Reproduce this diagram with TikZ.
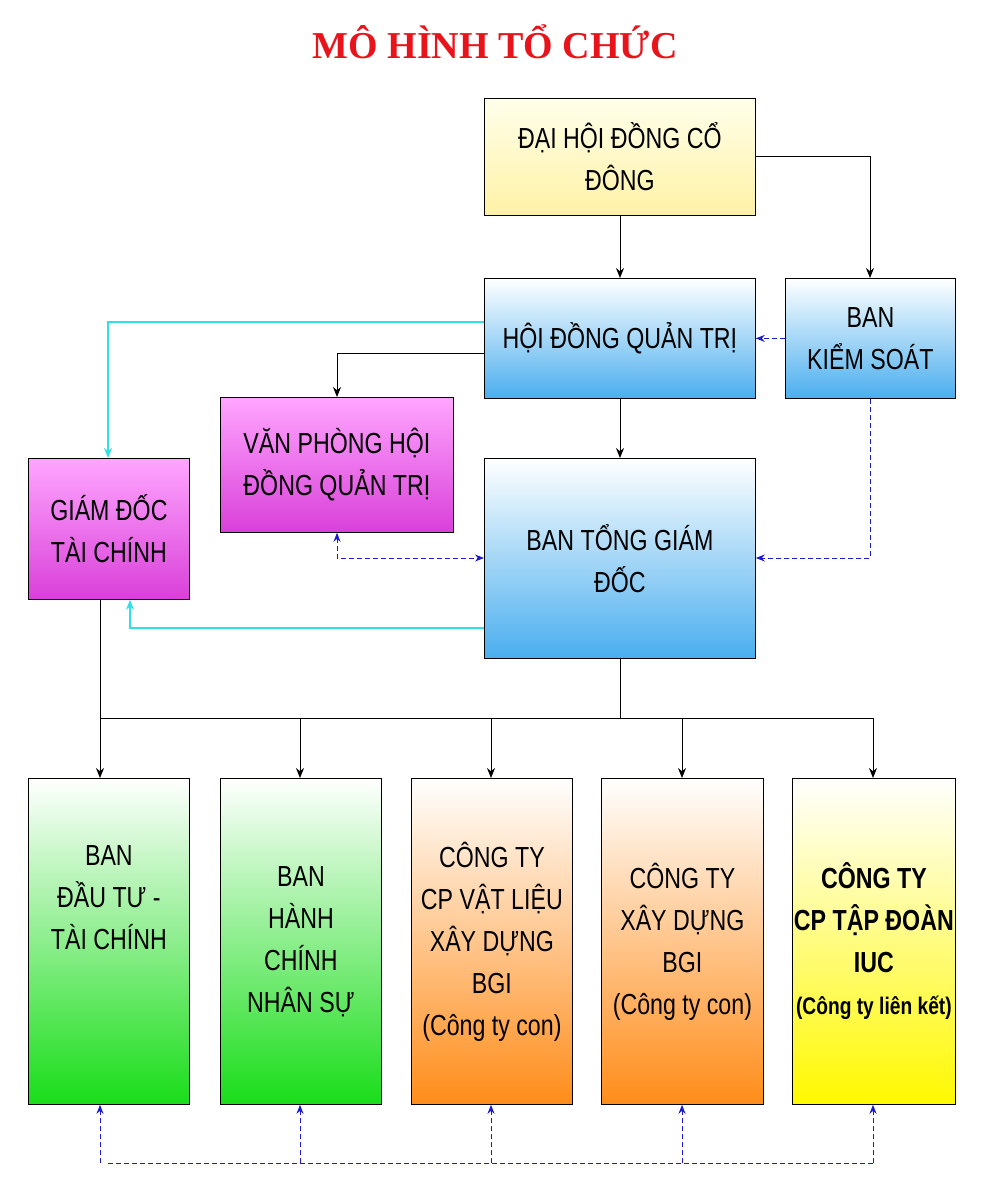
\documentclass[tikz,border=0pt]{standalone}
\usepackage{fontspec}
\setmainfont{Liberation Sans}[FakeStretch=0.8]
\newfontfamily\titlefont{Liberation Serif}
\usetikzlibrary{arrows.meta}
\definecolor{ttred}{HTML}{E8141C}
\definecolor{dashblue}{HTML}{1A1AD0}
\definecolor{cyanline}{HTML}{30E0E8}
\definecolor{deepblue}{HTML}{4AAEEE}

\tikzset{
  box/.style={draw, line width=0.8pt, align=center, inner sep=0pt, font=\fontsize{29}{42}\selectfont, anchor=north west},
  blueb/.style={box, top color=white, bottom color=deepblue},
  creamb/.style={box, top color=yellow!8, bottom color=orange!30!yellow!35},
  violb/.style={box, top color=magenta!35, bottom color=violet!40!magenta!75},
  greenb/.style={box, top color=white, bottom color=green!85!black!90},
  orangeb/.style={box, top color=white, bottom color=orange!90},
  yellowb/.style={box, top color=white, bottom color=yellow!95!orange},
  arr/.style={-{Stealth[length=10pt,width=8pt]}, line width=1pt},
  darr/.style={-{Stealth[length=9pt,width=7pt]}, dash pattern=on 5pt off 3pt, dashblue, line width=1pt},
  carr/.style={-{Stealth[length=10pt,width=8pt]}, cyanline, line width=1.2pt}
}

\begin{document}
\begin{tikzpicture}[x=1pt,y=-1pt]
\useasboundingbox (0,0) rectangle (986,1200);
\node[font=\titlefont\bfseries\fontsize{38}{40}\selectfont, text=ttred] (title) at (495,42) {MÔ HÌNH TỔ CHỨC};

% upper part
\node[creamb, minimum width=271pt, minimum height=117pt] (dh) at (484,98) {ĐẠI HỘI ĐỒNG CỔ\\ĐÔNG};
\node[blueb, minimum width=271pt, minimum height=120pt] (hd) at (484,278) {HỘI ĐỒNG QUẢN TRỊ};
\node[blueb, minimum width=170pt, minimum height=120pt] (ks) at (785,278) {BAN\\KIỂM SOÁT};
\node[violb, minimum width=233pt, minimum height=135pt] (vp) at (220,397) {VĂN PHÒNG HỘI\\ĐỒNG QUẢN TRỊ};
\node[violb, minimum width=161pt, minimum height=141pt] (gd) at (28,458) {GIÁM ĐỐC\\TÀI CHÍNH};
\node[blueb, minimum width=271pt, minimum height=200pt] (tg) at (484,458) {BAN TỔNG GIÁM\\ĐỐC};

% lower part
\node[greenb, minimum width=161pt, minimum height=326pt] (b1) at (28,778) {BAN\\ĐẦU TƯ -\\TÀI CHÍNH\\[46pt]};
\node[greenb, minimum width=161pt, minimum height=326pt] (b2) at (220,778) {BAN\\HÀNH\\CHÍNH\\NHÂN SỰ};
\node[orangeb, minimum width=161pt, minimum height=326pt] (b3) at (411,778) {CÔNG TY\\CP VẬT LIỆU\\XÂY DỰNG\\BGI\\(Công ty con)};
\node[orangeb, minimum width=162pt, minimum height=326pt] (b4) at (601,778) {CÔNG TY\\XÂY DỰNG\\BGI\\(Công ty con)};
\node[yellowb, minimum width=163pt, minimum height=326pt, font=\bfseries\fontsize{29}{42}\selectfont] (b5) at (792,778) {CÔNG TY\\CP TẬP ĐOÀN\\IUC\\{\fontsize{24}{42}\selectfont(Công ty liên kết)}};

\coordinate (hub) at (620,718);
\coordinate (hubl) at (100,718);
\coordinate (bus) at (108,1163);

% connectors
\draw[arr] (dh.south -| 620,0) -- (hd.north -| 620,0);
\draw[arr] (dh.east) -| (ks.north -| 870,0);
\draw[darr] (ks.west) -- (hd.east);
\draw[arr] (hd.west |- 0,353) -| (vp.north -| 337,0);
\draw[carr] (hd.west |- 0,322) -| (gd.north -| 108,0);
\draw[arr] (hd.south -| 620,0) -- (tg.north -| 620,0);
\draw[darr] (ks.south -| 870,0) |- (tg.east |- 0,558);
\draw[darr, {Stealth[length=9pt,width=7pt]}-{Stealth[length=9pt,width=7pt]}] (vp.south -| 337,0) |- (tg.west |- 0,558);
\draw[carr] (tg.west |- 0,628) -| (gd.south -| 130,0);
\draw[line width=1pt] (tg.south -| 620,0) -- (hub);
\draw[line width=1pt] (gd.south -| 100,0) -- (hubl) -- (873,718);
\foreach \b/\x in {b1/100,b2/300,b3/491,b4/682,b5/873}{
  \draw[arr] (\x,718) -- (\b.north -| \x,0);
  \draw[darr] (\x,1163) -- (\b.south -| \x,0);
}
\draw[dash pattern=on 5pt off 3pt, dashblue, line width=1pt] (bus) -- (873,1163);
\end{tikzpicture}
\end{document}
